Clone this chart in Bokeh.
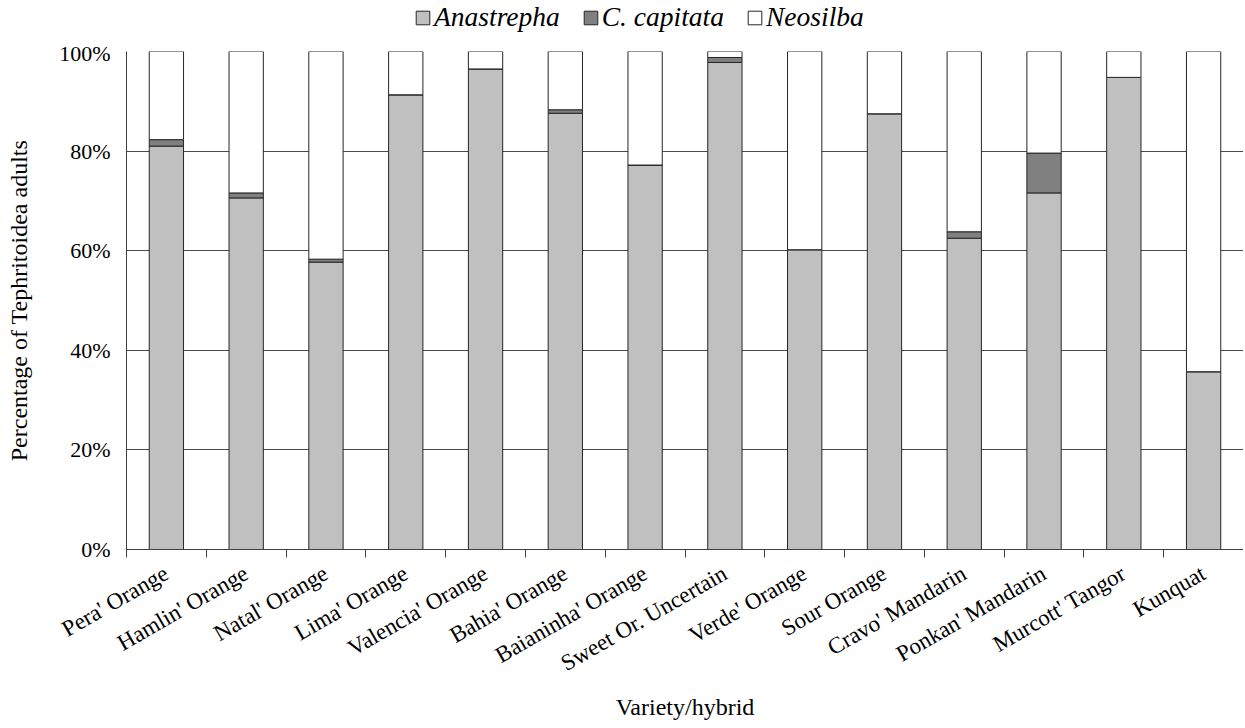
import math
from bokeh.plotting import figure
from bokeh.layouts import column
from bokeh.models import ColumnDataSource, Range1d, FixedTicker, Legend
from bokeh.embed import file_html
from bokeh.resources import INLINE

categories = ["Pera' Orange", "Hamlin' Orange", "Natal' Orange", "Lima' Orange",
              "Valencia' Orange", "Bahia' Orange", "Baianinha' Orange",
              "Sweet Or. Uncertain", "Verde' Orange", "Sour Orange",
              "Cravo' Mandarin", "Ponkan' Mandarin", "Murcott' Tangor", "Kunquat"]
anastrepha = [81.0, 70.6, 57.7, 91.3, 96.5, 87.6, 77.2, 97.8, 60.2, 87.5, 62.5, 71.6, 94.8, 35.7]
c_capitata = [1.3, 1.0, 0.6, 0.0, 0.0, 0.7, 0.0, 1.0, 0.0, 0.0, 1.3, 8.0, 0.0, 0.0]
neosilba = [round(100 - a - c, 1) for a, c in zip(anastrepha, c_capitata)]
series = ["Anastrepha", "C. capitata", "Neosilba"]
colors = ["#c0c0c0", "#808080", "#ffffff"]
y_ticks = [0, 20, 40, 60, 80, 100]
y_tick_labels = ["0%", "20%", "40%", "60%", "80%", "100%"]

n = len(categories)
x_pos = [i + 0.5 for i in range(n)]
src = ColumnDataSource(dict(x=x_pos, Anastrepha=anastrepha, **{"C. capitata": c_capitata}, Neosilba=neosilba))

FONT = "Liberation Serif"
EDGE = "#262626"
W = 1243
LEG_H = 40
LEFT = 126

# ---- legend strip (separate figure so the legend is not clipped) ----
pl = figure(width=W, height=LEG_H, output_backend="svg", toolbar_location=None,
            x_axis_type=None, y_axis_type=None, x_range=Range1d(0, 1), y_range=Range1d(0, 1),
            min_border_left=LEFT, min_border_right=0, min_border_top=0, min_border_bottom=0)
pl.outline_line_color = None
pl.xgrid.visible = False
pl.ygrid.visible = False
# swatch renderers for the legend only (their single bar lies outside the visible range)
leg_rs = [pl.vbar(x=[5], top=[5], bottom=[4], width=0.1, fill_color=c, line_color=EDGE, line_width=1)
          for c in colors]
legend = Legend(items=[(s, [r]) for s, r in zip(series, leg_rs)], orientation="horizontal",
                location=(288, 7))
legend.background_fill_alpha = 0
legend.border_line_color = None
legend.glyph_width = 17
legend.glyph_height = 17
legend.label_standoff = 3
legend.spacing = 22
legend.padding = 2
legend.margin = 0
legend.label_text_font = FONT
legend.label_text_font_style = "italic"
legend.label_text_font_size = "27.5px"
legend.label_text_color = "black"
pl.add_layout(legend, "center")

# ---- main chart ----
p = figure(width=W, height=684, output_backend="svg", toolbar_location=None,
           x_range=Range1d(0, n), y_range=Range1d(0, 100),
           min_border_left=LEFT, min_border_right=0, min_border_top=11, min_border_bottom=175)
p.outline_line_color = None

p.vbar_stack(series, x="x", width=0.43, source=src, fill_color=colors,
             line_color=EDGE, line_width=1)

# x axis
p.xaxis.ticker = FixedTicker(ticks=x_pos, minor_ticks=list(range(n + 1)))
p.xaxis.major_label_overrides = {x: c for x, c in zip(x_pos, categories)}
p.xaxis.major_tick_out = 0
p.xaxis.major_tick_in = 0
p.xaxis.minor_tick_out = 8
p.xaxis.minor_tick_in = 0
p.xaxis.minor_tick_line_color = "#404040"
p.xaxis.major_label_orientation = math.radians(30)
p.xaxis.major_label_standoff = 14
p.xaxis.axis_label = "Variety/hybrid"
p.xaxis.axis_label_standoff = 4

# y axis
p.yaxis.ticker = FixedTicker(ticks=y_ticks)
p.yaxis.major_label_overrides = {t: l for t, l in zip(y_ticks, y_tick_labels)}
p.yaxis.major_tick_out = 0
p.yaxis.major_tick_in = 0
p.yaxis.minor_tick_line_color = None
p.yaxis.major_label_standoff = 16
p.yaxis.axis_label = "Percentage of Tephritoidea adults"
p.yaxis.axis_label_standoff = 24

for ax in (p.xaxis, p.yaxis):
    ax.axis_line_color = "#404040"
    ax.axis_line_width = 1
    ax.major_label_text_font = FONT
    ax.major_label_text_font_size = "22px"
    ax.major_label_text_color = "black"
    ax.axis_label_text_font = FONT
    ax.axis_label_text_font_size = "24px"
    ax.axis_label_text_font_style = "normal"
    ax.axis_label_text_color = "black"

p.xaxis.major_label_text_font_size = "23px"

p.xgrid.grid_line_color = None
p.ygrid.ticker = FixedTicker(ticks=y_ticks)
p.ygrid.grid_line_color = "#4a4a4a"
p.ygrid.grid_line_width = 1

layout = column(pl, p, spacing=0)
open("out.html", "w").write(file_html(layout, INLINE))
